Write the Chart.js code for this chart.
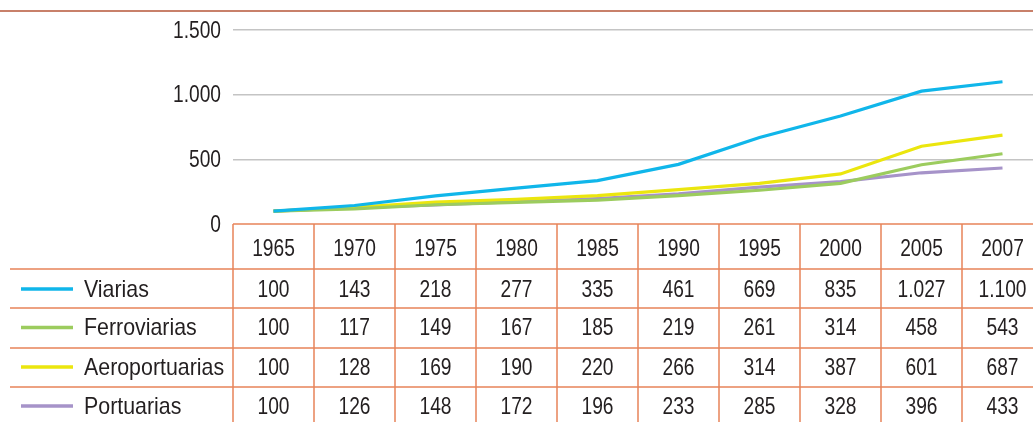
<!DOCTYPE html>
<html>
<head>
<meta charset="utf-8">
<script src="https://cdn.jsdelivr.net/npm/chart.js@4"></script>
<style>
  html, body { margin: 0; padding: 0; background: #fff; overflow: hidden; }
  #wrap { width: 1043px; height: 422px; position: relative; }
</style>
</head>
<body>
<div id="wrap"><canvas id="myChart"></canvas></div>
<script>
var years = ["1965", "1970", "1975", "1980", "1985", "1990", "1995", "2000", "2005", "2007"];
var viarias = [100, 143, 218, 277, 335, 461, 669, 835, 1027, 1100];
var ferroviarias = [100, 117, 149, 167, 185, 219, 261, 314, 458, 543];
var aeroportuarias = [100, 128, 169, 190, 220, 266, 314, 387, 601, 687];
var portuarias = [100, 126, 148, 172, 196, 233, 285, 328, 396, 433];
var yTicks = [0, 500, 1000, 1500];

var FONT = '24px "Liberation Sans", Arial, sans-serif';
var TEXT = "#231f20";
var ORANGE = "#e8845a";

// numbers with a dot as thousands separator
function fmt(v) {
  return String(v).replace(/\B(?=(\d{3})+(?!\d))/g, ".");
}

// condensed-looking text: squeeze horizontally
function squeezed(ctx, txt, x, y, sx) {
  ctx.save();
  ctx.translate(x, y);
  ctx.scale(sx, 1);
  ctx.fillText(txt, 0, 0);
  ctx.restore();
}

var series = [
  { label: "Viarias", data: viarias, color: "#10b6ea" },
  { label: "Ferroviarias", data: ferroviarias, color: "#9ccc5e" },
  { label: "Aeroportuarias", data: aeroportuarias, color: "#ebe60e" },
  { label: "Portuarias", data: portuarias, color: "#a693c9" },
];

// y labels + data table under the plot
var tablePlugin = {
  id: "dataTable",
  afterDraw: function (chart) {
    var ctx = chart.ctx;
    var x = chart.scales.x;
    var yS = chart.scales.y;
    var area = chart.chartArea;
    var W = chart.width;
    var H = chart.height;
    var half = (x.getPixelForValue(1) - x.getPixelForValue(0)) / 2;
    var rowLines = [269, 308, 348, 387];
    var rowText = [290, 328.5, 368, 407];

    ctx.save();
    // top rule
    ctx.strokeStyle = "#c8806a";
    ctx.lineWidth = 2;
    ctx.beginPath();
    ctx.moveTo(0, 11);
    ctx.lineTo(W, 11);
    ctx.stroke();

    ctx.strokeStyle = ORANGE;
    ctx.lineWidth = 1.5;
    ctx.beginPath();
    ctx.moveTo(area.left, area.bottom);
    ctx.lineTo(W, area.bottom);
    rowLines.forEach(function (y) {
      ctx.moveTo(10, y);
      ctx.lineTo(W, y);
    });
    for (var i = 0; i <= years.length; i++) {
      var xx = x.getPixelForValue(i) - half;
      ctx.moveTo(xx, area.bottom);
      ctx.lineTo(xx, H);
    }
    ctx.stroke();

    ctx.fillStyle = TEXT;
    ctx.font = FONT;
    ctx.textBaseline = "middle";

    // y axis labels
    ctx.textAlign = "right";
    yTicks.forEach(function (v) {
      squeezed(ctx, fmt(v), area.left - 12, yS.getPixelForValue(v) + 1, 0.8);
    });

    ctx.textAlign = "center";
    years.forEach(function (y, i) {
      squeezed(ctx, y, x.getPixelForValue(i), 249, 0.8);
    });

    series.forEach(function (s, r) {
      var ty = rowText[r];
      ctx.textAlign = "center";
      s.data.forEach(function (v, i) {
        squeezed(ctx, fmt(v), x.getPixelForValue(i), ty, 0.8);
      });
      ctx.strokeStyle = s.color;
      ctx.lineWidth = 3.5;
      ctx.beginPath();
      ctx.moveTo(21, ty - 1);
      ctx.lineTo(73, ty - 1);
      ctx.stroke();
      ctx.textAlign = "left";
      squeezed(ctx, s.label, 84, ty, 0.89);
    });
    ctx.restore();
  },
};

new Chart("myChart", {
  type: "line",
  data: {
    labels: years,
    datasets: series.map(function (s) {
      return {
        label: s.label,
        data: s.data,
        borderColor: s.color,
        borderWidth: 3.2,
        pointRadius: 0,
        tension: 0,
        fill: false,
      };
    }),
  },
  options: {
    responsive: true,
    maintainAspectRatio: false,
    animation: false,
    layout: { padding: { top: 30, bottom: 198, left: 0, right: 0 } },
    plugins: { legend: { display: false }, tooltip: { enabled: false } },
    scales: {
      x: {
        display: false,
        offset: true,
      },
      y: {
        min: 0,
        max: 1500,
        afterBuildTicks: function (scale) {
          scale.ticks = yTicks.map(function (v) { return { value: v }; });
        },
        afterFit: function (scale) {
          scale.width = 233;
        },
        border: { display: false },
        grid: {
          drawTicks: false,
          lineWidth: 1.5,
          color: function (c) {
            return c.tick && c.tick.value === 0 ? "rgba(0,0,0,0)" : "#c4c4c4";
          },
        },
        ticks: { display: false },
      },
    },
  },
  plugins: [tablePlugin],
});
</script>
</body>
</html>
